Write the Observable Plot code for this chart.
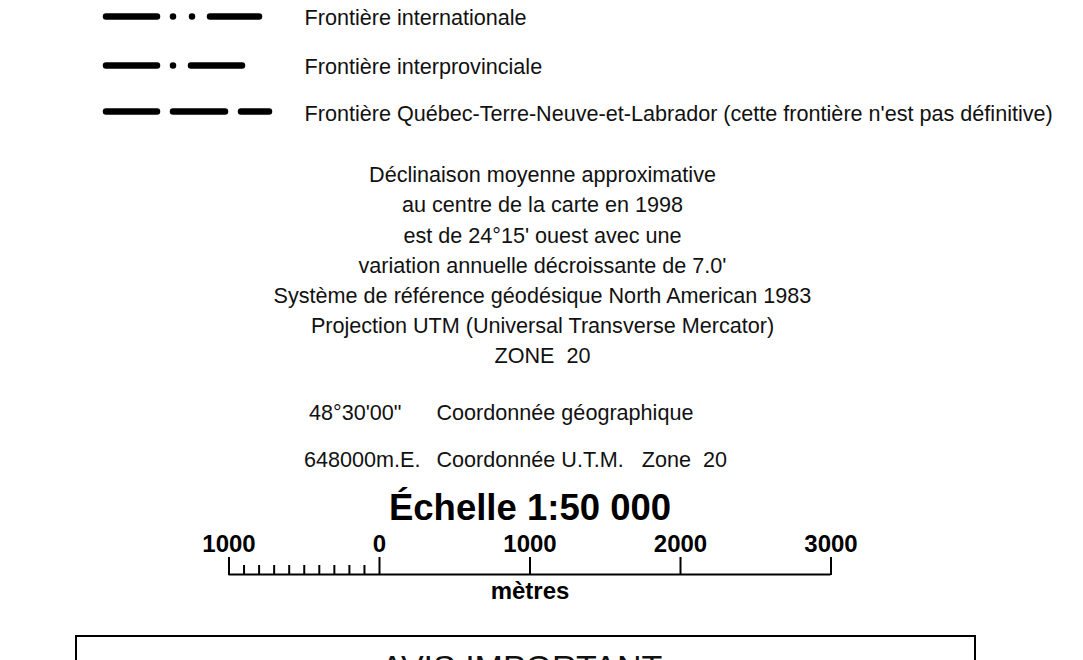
<!DOCTYPE html>
<html>
<head>
<meta charset="utf-8">
<script src="https://cdn.jsdelivr.net/npm/d3@7"></script>
<script src="https://cdn.jsdelivr.net/npm/@observablehq/plot@0.6"></script>
<style>
  html, body { margin: 0; padding: 0; background: #fff; }
  #wrap { position: relative; width: 1083px; height: 660px; overflow: hidden; background: #fff; }
  #wrap svg { position: absolute; left: 0; top: 0; }
  #wrap svg text { white-space: pre; }
</style>
</head>
<body>
<div id="wrap"></div>
<script>
// ---- content (data) ----
const legendLabels = [
  "Frontière internationale",
  "Frontière interprovinciale",
  "Frontière Québec-Terre-Neuve-et-Labrador (cette frontière n'est pas définitive)"
];
const legendKinds = ["international", "interprovincial", "quebec-labrador"];
const notesLines = [
  "Déclinaison moyenne approximative",
  "au centre de la carte en 1998",
  "est de 24°15' ouest avec une",
  "variation annuelle décroissante de 7.0'",
  "Système de référence géodésique North American 1983",
  "Projection UTM (Universal Transverse Mercator)",
  "ZONE  20"
];
const coordValues = ["48°30'00\"", "648000m.E."];
const coordLabels = ["Coordonnée géographique", "Coordonnée U.T.M.   Zone  20"];
const scaleTitle = ["Échelle 1:50 000"];
const scaleMajorTicks = [-1000, 0, 1000, 2000, 3000];
const scaleMinorTicks = [-900, -800, -700, -600, -500, -400, -300, -200, -100];
const scaleUnit = ["mètres"];
const noticeTitle = ["AVIS IMPORTANT"];

// ---- layout / style ----
const FONT = "'Liberation Sans', Arial, Helvetica, sans-serif";
const FS = 21.6;
const rowY = [16, 65, 111];
const rowTextY = [17.5, 66.5, 113.5];
const coordValueX = [401, 420];
const symStyles = {
  "international":   {x1: 106, x2: 259, dash: "51 16 0 19 0 18 49"},
  "interprovincial": {x1: 106, x2: 260, dash: "51 16 0 18 51 18 0"},
  "quebec-labrador": {x1: 106, x2: 269, dash: "51 16 52 16 28"}
};

const wrap = document.getElementById("wrap");

// Layout plot (pixel identity scales)
const layout = Plot.plot({
  width: 1083, height: 660, margin: 0,
  x: {type: "identity"}, y: {type: "identity"},
  style: {fontFamily: FONT, background: "transparent", overflow: "visible"},
  marks: [
    ...legendKinds.map((k, i) => Plot.ruleY([k], {
      y: () => rowY[i], x1: () => symStyles[k].x1, x2: () => symStyles[k].x2,
      stroke: "#000", strokeWidth: 6.5, strokeLinecap: "round",
      strokeDasharray: symStyles[k].dash
    })),
    Plot.text(legendLabels, {
      x: () => 304, y: (d, i) => rowTextY[i], text: d => d,
      textAnchor: "start", fontSize: FS, fill: "#111"
    }),
    Plot.text(notesLines, {
      x: () => 542, y: (d, i) => 174.8 + 30.2 * i, text: d => d,
      textAnchor: "middle", fontSize: FS, fill: "#111"
    }),
    Plot.text(coordValues, {
      x: (d, i) => coordValueX[i], y: (d, i) => 413 + 47 * i, text: d => d,
      textAnchor: "end", fontSize: FS, fill: "#111"
    }),
    Plot.text(coordLabels, {
      x: () => 436, y: (d, i) => 413 + 47 * i, text: d => d,
      textAnchor: "start", fontSize: FS, fill: "#111"
    }),
    Plot.rect(noticeTitle, {
      x1: () => 76, x2: () => 975, y1: () => 636, y2: () => 720,
      fill: "none", stroke: "#000", strokeWidth: 2
    }),
    Plot.text(noticeTitle, {
      x: () => 521, y: () => 668, text: d => d,
      textAnchor: "middle", fontSize: 34, fill: "#111"
    })
  ]
});
wrap.appendChild(layout);

// Scale bar plot (x in metres)
const scalebar = Plot.plot({
  width: 1083, height: 660, margin: 0,
  x: {domain: [-1000, 3000], range: [228.5, 830.5]},
  y: {type: "identity"},
  axis: null,
  style: {fontFamily: FONT, background: "transparent", overflow: "visible"},
  marks: [
    Plot.ruleY([574], {x1: -1000, x2: 3000, stroke: "#000", strokeWidth: 2}),
    Plot.ruleX(scaleMajorTicks, {x: d => d, y1: 557, y2: 575, stroke: "#000", strokeWidth: 2}),
    Plot.ruleX(scaleMinorTicks, {x: d => d, y1: 565, y2: 575, stroke: "#000", strokeWidth: 2}),
    Plot.text(scaleMajorTicks, {
      x: d => d, y: () => 544, text: d => String(Math.abs(d)),
      textAnchor: "middle", fontSize: 24, fontWeight: "bold", fill: "#000"
    }),
    Plot.text(scaleTitle, {
      x: () => 1000, y: () => 508, text: d => d,
      textAnchor: "middle", fontSize: 36.5, fontWeight: "bold", fill: "#000"
    }),
    Plot.text(scaleUnit, {
      x: () => 1000, y: () => 591, text: d => d,
      textAnchor: "middle", fontSize: 24, fontWeight: "bold", fill: "#000"
    })
  ]
});
wrap.appendChild(scalebar);
</script>
</body>
</html>
